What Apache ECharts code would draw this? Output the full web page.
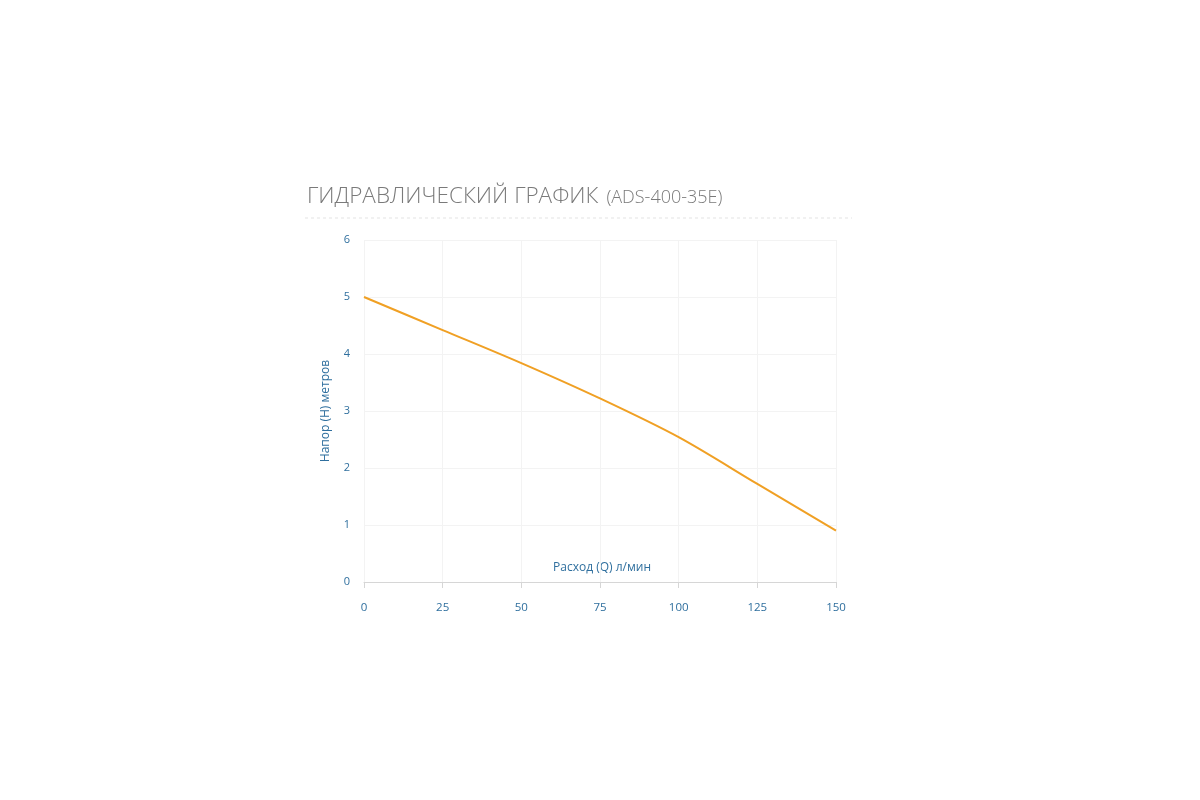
<!DOCTYPE html>
<html><head><meta charset="utf-8">
<script src="https://cdn.jsdelivr.net/npm/echarts@6/dist/echarts.min.js"></script>
<style>html,body{margin:0;padding:0;background:#fff}#c{width:1200px;height:800px}</style>
</head><body><div id="c"></div>
<script>
const flow = [0, 25, 50, 75, 100, 125, 150];
const head = [5.0, 4.42, 3.84, 3.22, 2.54, 1.72, 0.9];
const xTicks = [0, 25, 50, 75, 100, 125, 150];
const yTicks = [0, 1, 2, 3, 4, 5, 6];
const titleMain = 'ГИДРАВЛИЧЕСКИЙ ГРАФИК';
const titleSub = '(ADS-400-35E)';
const xName = 'Расход (Q) л/мин';
const yName = 'Напор (H) метров';

const blue = '#2f6f9e';
const chart = echarts.init(document.getElementById('c'));
chart.setOption({
  animation: false,
  title: {
    text: '{a|' + titleMain + '}{b|' + titleSub + '}',
    left: 302, top: 180,
    textStyle: { rich: {
      a: { fontFamily: 'Open Sans', fontWeight: 300, fontSize: 22.5, color: '#7a7a7a' },
      b: { fontFamily: 'Open Sans', fontWeight: 300, fontSize: 18, color: '#7a7a7a', padding: [3,0,0,8] }
    } }
  },
  graphic: [
    { type: 'line', shape: { x1: 305, y1: 218, x2: 852, y2: 218 },
      style: { stroke: '#e4e4e4', lineWidth: 1, lineDash: [3, 3] } },
    { type: 'text', left: 553, top: 562,
      style: { text: xName, fill: blue, font: '12px "Open Sans"' } }
  ],
  grid: { left: 364, right: 364, top: 240, bottom: 218 },
  xAxis: {
    type: 'value', min: 0, max: 150, interval: 25,
    axisLine: { show: true, lineStyle: { color: '#d6d6d6' } },
    axisTick: { show: true, length: 6, lineStyle: { color: '#d6d6d6' } },
    axisLabel: { color: blue, fontFamily: 'Open Sans', fontSize: 11.5, margin: 20 },
    splitLine: { show: true, lineStyle: { color: '#f3f3f3' } }
  },
  yAxis: {
    type: 'value', min: 0, max: 6, interval: 1,
    name: yName, nameLocation: 'middle', nameGap: 32, nameRotate: 90,
    nameTextStyle: { color: blue, fontFamily: 'Open Sans', fontSize: 12 },
    axisLine: { show: false }, axisTick: { show: false },
    axisLabel: { color: blue, fontFamily: 'Open Sans', fontSize: 11, margin: 14 },
    splitLine: { show: true, lineStyle: { color: '#f3f3f3' } }
  },
  series: [{
    type: 'line', smooth: 0.3, showSymbol: false,
    data: flow.map((x, i) => [x, head[i]]),
    lineStyle: { color: '#f0a024', width: 2 }
  }]
});
</script></body></html>
